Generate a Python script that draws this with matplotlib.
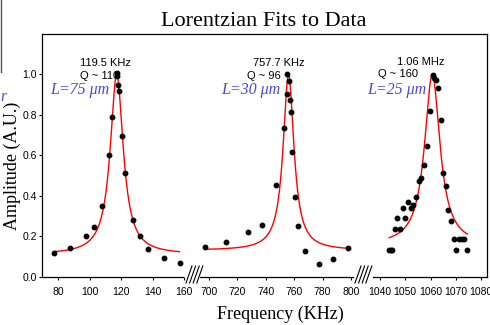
import numpy as np
import matplotlib.pyplot as plt
from matplotlib.lines import Line2D

f_75 = [77.7, 87.6, 97.8, 102.7, 107.7, 112.2, 114.5, 117.3, 117.7, 118.1,
        118.7, 120.6, 122.3, 127.6, 132.3, 137.3, 147.1, 157.3]
a_75 = [0.116, 0.142, 0.200, 0.247, 0.352, 0.600, 0.790, 1.007, 0.991, 0.947,
        0.917, 0.696, 0.514, 0.280, 0.200, 0.138, 0.091, 0.068]

f_30 = [697.2, 712.2, 727.3, 737.1, 747.2, 752.6, 754.7, 755.1, 756.5, 757.0,
        757.5, 758.5, 760.3, 762.5, 767.4, 777.5, 787.5, 797.7]
a_30 = [0.145, 0.173, 0.219, 0.255, 0.453, 0.733, 0.902, 1.001, 0.968, 0.873,
        0.812, 0.617, 0.395, 0.250, 0.128, 0.061, 0.089, 0.142]

f_25 = [1043.6, 1044.2, 1044.8, 1045.8, 1046.9, 1047.9, 1049.0, 1050.0, 1051.1,
        1052.2, 1053.2, 1054.3, 1055.3, 1056.4, 1057.6, 1058.5, 1059.8, 1060.9,
        1061.4, 1062.1, 1063.1, 1064.0, 1065.0, 1066.0, 1067.1, 1068.1, 1069.2,
        1070.2, 1071.3, 1072.4, 1073.4, 1074.5]
a_25 = [0.132, 0.132, 0.132, 0.237, 0.288, 0.237, 0.341, 0.288, 0.367,
        0.341, 0.354, 0.395, 0.474, 0.486, 0.553, 0.645, 0.818, 0.996,
        0.980, 0.971, 0.935, 0.777, 0.515, 0.449, 0.328, 0.275, 0.185,
        0.132, 0.185, 0.185, 0.185, 0.132]

# lorentzian fit parameters (center, half width, amplitude, baseline, range)
fit_center = [117.3, 756.0, 1060.7]
fit_hwhm = [5.0, 4.6, 3.7]
fit_amp = [0.89, 0.87, 0.845]
fit_base = [0.11, 0.13, 0.155]
fit_lo = [78.0, 697.0, 1043.6]
fit_hi = [157.0, 797.0, 1074.6]

freq_labels = ["119.5 KHz", "757.7 KHz", "1.06 MHz"]
q_labels = ["Q ~ 110", "Q ~ 96", "Q ~ 160"]
len_labels = ["L=75 μm", "L=30 μm", "L=25 μm"]

xticks = [80, 100, 120, 140, 160, 700, 720, 740, 760, 780, 800,
          1040, 1050, 1060, 1070, 1080]

# broken x axis: each frequency window gets its own linear scale
seg_f0 = [80, 700, 1040]
seg_u0 = [58.0, 209.0, 380.0]
seg_k = [1.575, 1.42, 2.525]


def to_u(f):
    f = np.asarray(f, dtype=float)
    i = np.where(f < 400, 0, np.where(f < 900, 1, 2))
    return np.take(seg_u0, i) + (f - np.take(seg_f0, i)) * np.take(seg_k, i)


W, H = 490, 325
fig = plt.figure(figsize=(W / 100, H / 100), dpi=100)
ax = fig.add_axes([42 / W, 1 - 276.7 / H, (487 - 42) / W, (276.7 - 34) / H])

sans = "Liberation Sans"
serif = "Liberation Serif"

for k in range(3):
    f = np.linspace(fit_lo[k], fit_hi[k], 400)
    g = fit_hwhm[k]
    y = fit_base[k] + fit_amp[k] * g ** 2 / ((f - fit_center[k]) ** 2 + g ** 2)
    ax.plot(to_u(f), y, color="red", lw=1.0, zorder=2)

for f, a in [(f_75, a_75), (f_30, a_30), (f_25, a_25)]:
    ax.plot(to_u(f), a, "o", color="black", ms=3.2, zorder=3)

ax.set_xlim(42, 487)
ax.set_ylim(0, 1.2)
ax.set_yticks([0.0, 0.2, 0.4, 0.6, 0.8, 1.0])
ax.set_yticklabels(["0.0", "0.2", "0.4", "0.6", "0.8", "1.0"],
                   fontsize=7.5, family=sans)
ax.set_xticks(to_u(xticks))
ax.set_xticklabels([str(t) for t in xticks], fontsize=7.5, family=sans)
ax.tick_params(axis="x", direction="out", length=2.5, width=0.8, pad=5)
ax.tick_params(axis="y", direction="out", length=2.5, width=0.8, pad=1)

for s in ["top", "right", "left"]:
    ax.spines[s].set_linewidth(0.9)
ax.spines["bottom"].set_visible(False)

# bottom axis pieces and the //// break marks
def v(py):
    return (276.7 - py) / 202.5

for u1, u2 in [(42, 183), (200, 353), (373, 487)]:
    ax.plot([u1, u2], [0, 0], color="black", lw=0.9, clip_on=False, zorder=4)
for x0 in [186, 355]:
    for i in range(4):
        ax.plot([x0 + 3.6 * i, x0 + 3.6 * i + 6], [v(283), v(266)],
                color="black", lw=0.8, clip_on=False, zorder=4)

# annotations (pixel positions)
def px(x, y):
    return x / W, 1 - y / H

freq_pos = [(105, 63), (279, 63), (421, 62)]
q_pos = [(99.5, 76), (263.5, 76), (398, 74)]
len_pos = [(79.5, 90), (251, 90), (396.5, 90)]
for k in range(3):
    ax.text(*px(*freq_pos[k]), freq_labels[k], transform=fig.transFigure,
            ha="center", va="center", fontsize=8, family=sans, zorder=1)
    ax.text(*px(*q_pos[k]), q_labels[k], transform=fig.transFigure,
            ha="center", va="center", fontsize=8, family=sans, zorder=1)
    ax.text(*px(*len_pos[k]), len_labels[k], transform=fig.transFigure,
            ha="center", va="center", fontsize=11.5, family=serif,
            style="italic", color="#4848dc", zorder=1)

fig.text(*px(264, 26.5), "Lorentzian Fits to Data", ha="center",
         va="baseline", fontsize=16, family=serif)
fig.text(*px(12.5, 166), "Amplitude (A.U.)", ha="center", va="center",
         rotation=90, fontsize=13, family=serif)
fig.text(*px(280, 318.5), "Frequency (KHz)", ha="center", va="baseline",
         fontsize=13, family=serif)

# leftover edge of a neighbouring slide element
fig.add_artist(Line2D([1 / W, 1 / W], [1, 1 - 72 / H], color="#555555", lw=1.0))
fig.text(*px(3, 97), "r", ha="center", va="center", fontsize=11.5,
         family=serif, style="italic", color="#4848dc")

fig.savefig("out.png", dpi=100)
plt.close(fig)
